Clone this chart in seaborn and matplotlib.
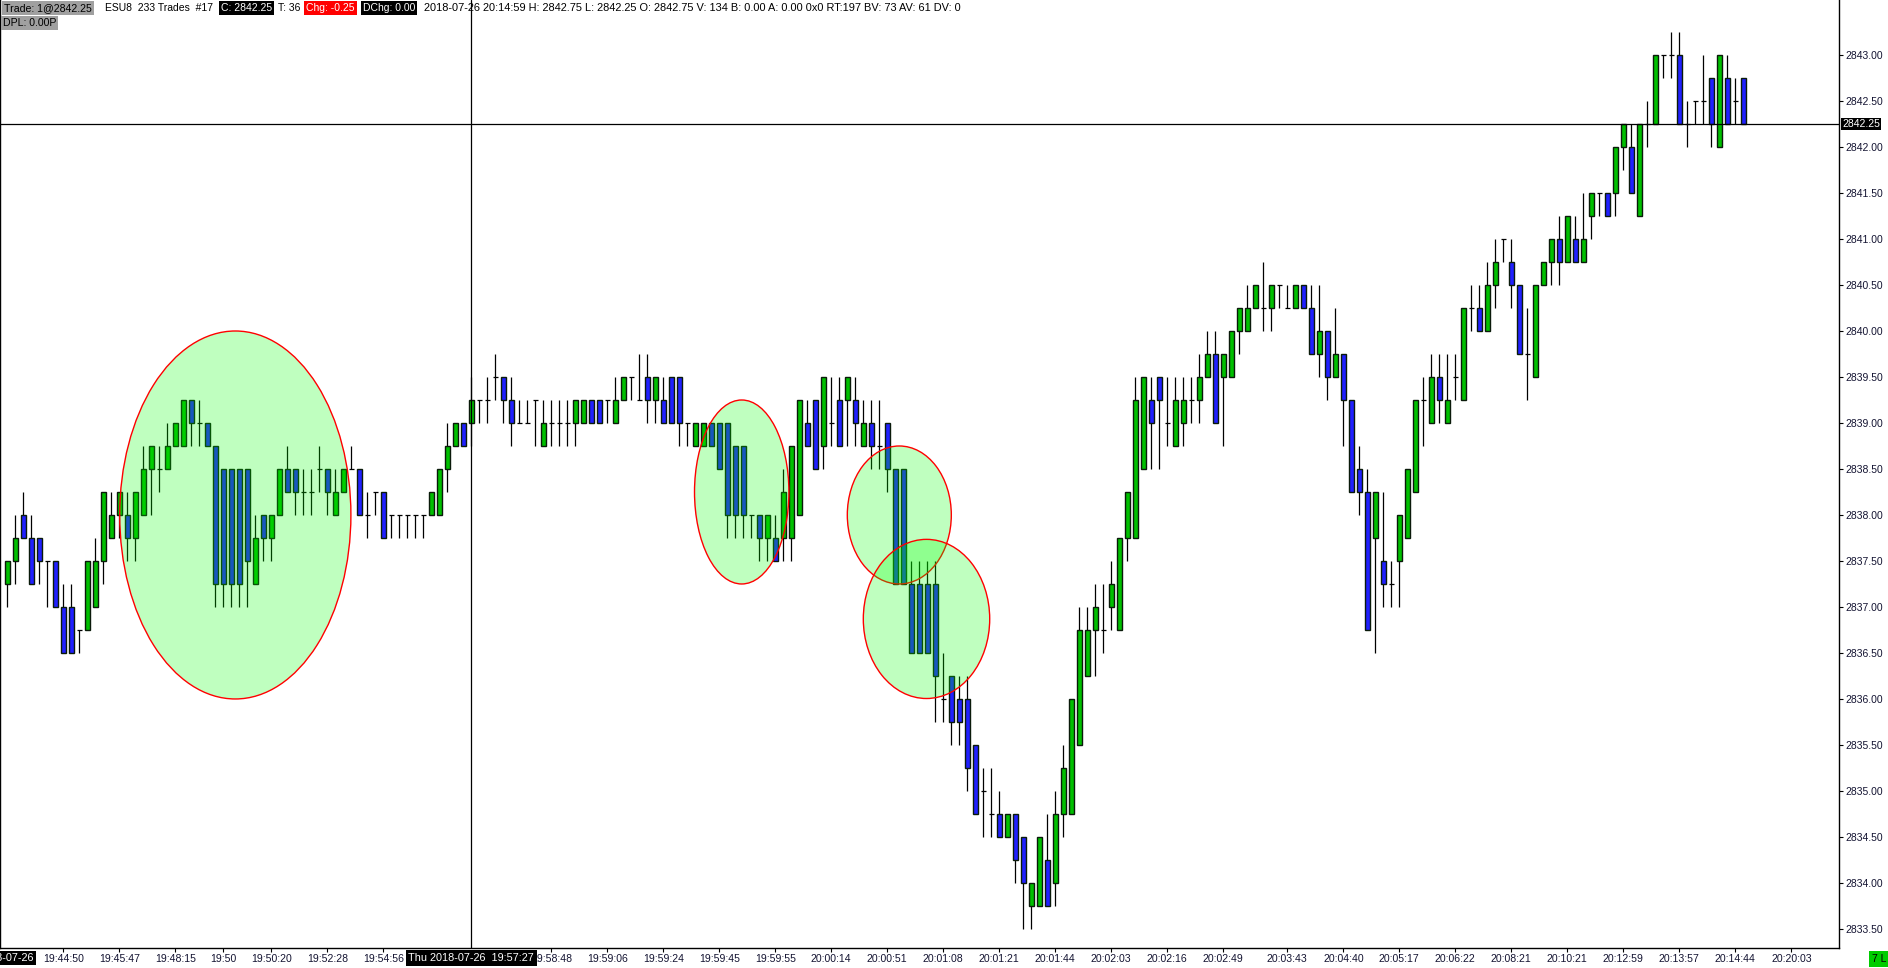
import matplotlib
matplotlib.use("Agg")
import matplotlib.pyplot as plt
from matplotlib.patches import Ellipse
import seaborn as sns
import numpy as np
import pandas as pd

sns.set_theme(style="white")
plt.rcParams["font.family"] = ["Liberation Sans", "DejaVu Sans"]

# ---------------- data (ESU8, 233-trade bars) ----------------
OPEN = [2837.25, 2837.50, 2838.00, 2837.75, 2837.75, 2837.50, 2837.50, 2837.00, 2837.00, 2836.75,
        2836.75, 2837.00, 2837.50, 2837.75, 2838.00, 2838.00, 2837.75, 2838.00, 2838.50, 2838.50,
        2838.50, 2838.75, 2838.75, 2839.25, 2839.00, 2839.00, 2838.75, 2838.50, 2838.50, 2838.50,
        2838.50, 2837.25, 2838.00, 2837.75, 2838.00, 2838.50, 2838.50, 2838.25, 2838.25, 2838.50,
        2838.50, 2838.00, 2838.25, 2838.50, 2838.50, 2838.00, 2838.25, 2838.25, 2838.00, 2838.00,
        2838.00, 2838.00, 2838.00, 2838.00, 2838.00, 2838.50, 2838.75, 2839.00, 2839.00, 2839.25,
        2839.25, 2839.50, 2839.50, 2839.25, 2839.00, 2839.00, 2839.25, 2838.75, 2839.00, 2839.00,
        2839.00, 2839.00, 2839.00, 2839.25, 2839.25, 2839.25, 2839.00, 2839.25, 2839.50, 2839.25,
        2839.50, 2839.25, 2839.25, 2839.50, 2839.50, 2839.00, 2838.75, 2838.75, 2839.00, 2839.00,
        2839.00, 2838.75, 2838.75, 2838.00, 2838.00, 2837.75, 2837.75, 2837.75, 2837.75, 2838.00,
        2839.00, 2839.25, 2838.75, 2839.00, 2839.25, 2839.25, 2839.25, 2838.75, 2839.00, 2838.75,
        2839.00, 2838.50, 2838.50, 2837.25, 2837.25, 2837.25, 2837.25, 2836.00, 2836.25, 2836.00,
        2836.00, 2835.50, 2835.00, 2834.75, 2834.75, 2834.50, 2834.75, 2834.50, 2833.75, 2833.75,
        2834.25, 2834.00, 2834.75, 2834.75, 2835.50, 2836.25, 2836.75, 2836.75, 2837.00, 2836.75,
        2837.75, 2837.75, 2838.50, 2839.25, 2839.50, 2839.00, 2838.75, 2839.00, 2839.25, 2839.25,
        2839.50, 2839.75, 2839.50, 2839.50, 2840.00, 2840.00, 2840.25, 2840.25, 2840.25, 2840.50,
        2840.25, 2840.25, 2840.50, 2840.25, 2839.75, 2840.00, 2839.50, 2839.75, 2839.25, 2838.50,
        2838.25, 2837.75, 2837.50, 2837.25, 2837.50, 2837.75, 2838.25, 2839.25, 2839.00, 2839.50,
        2839.00, 2839.50, 2839.25, 2840.25, 2840.25, 2840.00, 2840.50, 2841.00, 2840.75, 2840.50,
        2839.75, 2839.50, 2840.50, 2840.75, 2841.00, 2840.75, 2841.00, 2840.75, 2841.25, 2841.50,
        2841.50, 2841.50, 2842.00, 2842.00, 2841.25, 2842.25, 2842.25, 2843.00, 2843.00, 2843.00,
        2842.25, 2842.50, 2842.50, 2842.75, 2842.00, 2842.75, 2842.50, 2842.75]
HIGH = [2837.50, 2838.00, 2838.25, 2838.00, 2837.75, 2837.50, 2837.50, 2837.25, 2837.25, 2836.75,
        2837.50, 2837.75, 2838.25, 2838.25, 2838.25, 2838.25, 2838.25, 2838.75, 2838.75, 2838.75,
        2839.00, 2839.00, 2839.25, 2839.25, 2839.25, 2839.00, 2838.75, 2838.50, 2838.50, 2838.50,
        2838.50, 2838.00, 2838.00, 2838.00, 2838.50, 2838.75, 2838.50, 2838.50, 2838.50, 2838.75,
        2838.50, 2838.50, 2838.50, 2838.75, 2838.50, 2838.25, 2838.25, 2838.25, 2838.00, 2838.00,
        2838.00, 2838.00, 2838.00, 2838.25, 2838.50, 2839.00, 2839.00, 2839.00, 2839.50, 2839.25,
        2839.50, 2839.75, 2839.50, 2839.50, 2839.25, 2839.25, 2839.25, 2839.25, 2839.25, 2839.25,
        2839.25, 2839.25, 2839.25, 2839.25, 2839.25, 2839.25, 2839.50, 2839.50, 2839.50, 2839.75,
        2839.75, 2839.50, 2839.50, 2839.50, 2839.50, 2839.00, 2839.00, 2839.00, 2839.00, 2839.00,
        2839.00, 2838.75, 2838.75, 2838.00, 2838.00, 2838.00, 2838.00, 2838.50, 2838.75, 2839.25,
        2839.25, 2839.25, 2839.50, 2839.50, 2839.50, 2839.50, 2839.50, 2839.25, 2839.25, 2839.25,
        2839.00, 2838.50, 2838.50, 2837.50, 2837.50, 2837.50, 2837.50, 2836.50, 2836.25, 2836.25,
        2836.25, 2835.50, 2835.25, 2835.25, 2835.00, 2834.75, 2834.75, 2834.50, 2834.00, 2834.50,
        2834.75, 2835.00, 2835.50, 2836.00, 2837.00, 2837.00, 2837.25, 2837.25, 2837.50, 2837.75,
        2838.25, 2839.50, 2839.50, 2839.50, 2839.50, 2839.50, 2839.50, 2839.50, 2839.50, 2839.75,
        2840.00, 2840.00, 2839.75, 2840.00, 2840.25, 2840.50, 2840.50, 2840.75, 2840.50, 2840.50,
        2840.50, 2840.50, 2840.50, 2840.50, 2840.50, 2840.00, 2840.25, 2839.75, 2839.25, 2838.75,
        2838.50, 2838.25, 2838.25, 2837.50, 2838.00, 2838.50, 2839.25, 2839.50, 2839.75, 2839.75,
        2839.75, 2839.75, 2840.25, 2840.50, 2840.50, 2840.75, 2841.00, 2841.00, 2841.00, 2840.50,
        2840.25, 2840.50, 2840.75, 2841.00, 2841.25, 2841.25, 2841.25, 2841.50, 2841.50, 2841.50,
        2841.50, 2842.00, 2842.25, 2842.25, 2842.25, 2842.50, 2843.00, 2843.00, 2843.25, 2843.25,
        2842.50, 2842.50, 2843.00, 2842.75, 2843.00, 2843.00, 2842.75, 2842.75]
LOW = [2837.00, 2837.25, 2837.75, 2837.25, 2837.25, 2837.00, 2837.00, 2836.50, 2836.50, 2836.50,
       2836.75, 2837.00, 2837.25, 2837.75, 2837.75, 2837.50, 2837.50, 2838.00, 2838.00, 2838.25,
       2838.50, 2838.75, 2838.75, 2838.75, 2838.75, 2838.75, 2837.00, 2837.00, 2837.00, 2837.00,
       2837.00, 2837.25, 2837.50, 2837.50, 2838.00, 2838.25, 2838.00, 2838.00, 2838.00, 2838.25,
       2838.00, 2838.00, 2838.25, 2838.50, 2838.00, 2837.75, 2838.00, 2837.75, 2837.75, 2837.75,
       2837.75, 2837.75, 2837.75, 2838.00, 2838.00, 2838.25, 2838.75, 2838.75, 2838.75, 2839.00,
       2839.00, 2839.25, 2839.00, 2838.75, 2839.00, 2839.00, 2838.75, 2838.75, 2838.75, 2838.75,
       2838.75, 2838.75, 2839.00, 2839.00, 2839.00, 2839.00, 2839.00, 2839.25, 2839.25, 2839.25,
       2839.00, 2839.00, 2839.00, 2839.00, 2838.75, 2838.75, 2838.75, 2838.75, 2838.75, 2838.50,
       2837.75, 2837.75, 2837.75, 2837.75, 2837.50, 2837.50, 2837.50, 2837.50, 2837.50, 2838.00,
       2838.75, 2838.50, 2838.50, 2838.75, 2838.75, 2838.75, 2838.75, 2838.75, 2838.50, 2838.50,
       2838.25, 2837.25, 2837.25, 2836.50, 2836.50, 2836.50, 2835.75, 2835.75, 2835.50, 2835.50,
       2835.00, 2834.75, 2834.50, 2834.50, 2834.50, 2834.50, 2834.00, 2833.50, 2833.50, 2833.75,
       2833.75, 2833.75, 2834.50, 2834.75, 2835.50, 2836.25, 2836.25, 2836.50, 2836.75, 2836.75,
       2837.50, 2837.75, 2838.50, 2838.50, 2838.50, 2838.75, 2838.75, 2838.75, 2839.00, 2839.00,
       2839.50, 2839.00, 2838.75, 2839.50, 2839.75, 2840.00, 2840.25, 2840.00, 2840.00, 2840.25,
       2840.25, 2840.25, 2840.25, 2839.75, 2839.50, 2839.25, 2839.50, 2838.75, 2838.25, 2838.00,
       2836.75, 2836.50, 2837.00, 2837.00, 2837.00, 2837.75, 2838.25, 2838.75, 2839.00, 2839.00,
       2839.00, 2839.25, 2839.25, 2840.00, 2840.00, 2840.00, 2840.25, 2840.75, 2840.25, 2839.75,
       2839.25, 2839.50, 2840.50, 2840.50, 2840.50, 2840.75, 2840.75, 2840.75, 2841.00, 2841.25,
       2841.25, 2841.25, 2841.75, 2841.50, 2841.25, 2842.00, 2842.25, 2842.75, 2842.75, 2842.25,
       2842.00, 2842.25, 2842.25, 2842.00, 2842.00, 2842.25, 2842.25, 2842.25]
CLOSE = [2837.50, 2837.75, 2837.75, 2837.25, 2837.50, 2837.50, 2837.00, 2836.50, 2836.50, 2836.75,
         2837.50, 2837.50, 2838.25, 2838.00, 2838.25, 2837.75, 2838.25, 2838.50, 2838.75, 2838.50,
         2838.75, 2839.00, 2839.25, 2839.00, 2839.00, 2838.75, 2837.25, 2837.25, 2837.25, 2837.25,
         2837.50, 2837.75, 2837.75, 2838.00, 2838.50, 2838.25, 2838.25, 2838.25, 2838.25, 2838.50,
         2838.25, 2838.25, 2838.50, 2838.50, 2838.00, 2838.00, 2838.25, 2837.75, 2838.00, 2838.00,
         2838.00, 2838.00, 2838.00, 2838.25, 2838.50, 2838.75, 2839.00, 2838.75, 2839.25, 2839.25,
         2839.25, 2839.50, 2839.25, 2839.00, 2839.00, 2839.00, 2839.25, 2839.00, 2839.00, 2839.00,
         2839.00, 2839.25, 2839.25, 2839.00, 2839.00, 2839.25, 2839.25, 2839.50, 2839.50, 2839.25,
         2839.25, 2839.50, 2839.00, 2839.00, 2839.00, 2839.00, 2839.00, 2839.00, 2838.75, 2838.50,
         2838.00, 2838.00, 2838.00, 2838.00, 2837.75, 2838.00, 2837.50, 2838.25, 2838.75, 2839.25,
         2838.75, 2838.50, 2839.50, 2839.00, 2838.75, 2839.50, 2839.00, 2839.00, 2838.75, 2838.75,
         2838.50, 2837.25, 2837.25, 2836.50, 2836.50, 2836.50, 2836.25, 2836.00, 2835.75, 2835.75,
         2835.25, 2834.75, 2835.00, 2834.75, 2834.50, 2834.75, 2834.25, 2834.00, 2834.00, 2834.50,
         2833.75, 2834.75, 2835.25, 2836.00, 2836.75, 2836.75, 2837.00, 2836.75, 2837.25, 2837.75,
         2838.25, 2839.25, 2839.50, 2839.00, 2839.25, 2839.00, 2839.25, 2839.25, 2839.25, 2839.50,
         2839.75, 2839.00, 2839.75, 2840.00, 2840.25, 2840.25, 2840.50, 2840.25, 2840.50, 2840.50,
         2840.25, 2840.50, 2840.25, 2839.75, 2840.00, 2839.50, 2839.75, 2839.25, 2838.25, 2838.25,
         2836.75, 2838.25, 2837.25, 2837.25, 2838.00, 2838.50, 2839.25, 2839.25, 2839.50, 2839.25,
         2839.25, 2839.50, 2840.25, 2840.25, 2840.00, 2840.50, 2840.75, 2841.00, 2840.50, 2839.75,
         2839.75, 2840.50, 2840.75, 2841.00, 2840.75, 2841.25, 2840.75, 2841.00, 2841.50, 2841.50,
         2841.25, 2842.00, 2842.25, 2841.50, 2842.25, 2842.25, 2843.00, 2843.00, 2843.00, 2842.25,
         2842.25, 2842.50, 2842.50, 2842.25, 2843.00, 2842.25, 2842.50, 2842.25]

TIME_POS = [7, 14, 21, 27, 33, 40, 47, 68, 75, 82, 89, 96, 103, 110, 117, 124, 131, 138,
            145, 152, 160, 167, 174, 181, 188, 195, 202, 209, 216, 223]
TIME_LABELS = ["19:44:50", "19:45:47", "19:48:15", "19:50", "19:50:20", "19:52:28", "19:54:56",
               "19:58:48", "19:59:06", "19:59:24", "19:59:45", "19:59:55", "20:00:14", "20:00:51",
               "20:01:08", "20:01:21", "20:01:44", "20:02:03", "20:02:16", "20:02:49", "20:03:43",
               "20:04:40", "20:05:17", "20:06:22", "20:08:21", "20:10:21", "20:12:59", "20:13:57",
               "20:14:44", "20:20:03"]
PRICE_TICKS = [2833.5, 2834.0, 2834.5, 2835.0, 2835.5, 2836.0, 2836.5, 2837.0, 2837.5, 2838.0,
               2838.5, 2839.0, 2839.5, 2840.0, 2840.5, 2841.0, 2841.5, 2842.0, 2842.5, 2843.0]

# highlighted zones: (center bar, center price, width in bars, height in price)
ZONES = [(28.5, 2838.00, 28.9, 4.0),
         (91.8, 2838.25, 11.8, 2.0),
         (111.5, 2838.00, 13.0, 1.5),
         (114.9, 2836.87, 15.8, 1.73)]

LAST_PRICE = 2842.25
CURSOR_BAR = 58
CURSOR_TIME = "Thu 2018-07-26  19:57:27"

# ---------------- figure ----------------
W, H = 1888, 968
fig = plt.figure(figsize=(W / 100, H / 100), dpi=100)
fig.patch.set_facecolor("white")
ax = fig.add_axes([0, 20 / H, 1839 / W, 948 / H])
ax.set_facecolor("white")

df = pd.DataFrame({"open": OPEN, "high": HIGH, "low": LOW, "close": CLOSE})
df["bar"] = np.arange(len(df))
up = df[df.close > df.open]
dn = df[df.close < df.open]
fl = df[df.close == df.open]

GREEN = "#00c000"
BLUE = "#2020ff"
BW = 0.64
ax.vlines(df.bar, df.low, df.high, color="black", lw=0.9, zorder=2)
ax.bar(up.bar, up.close - up.open, bottom=up.open, width=BW, color=GREEN,
       edgecolor="#0a1a0a", linewidth=1.0, zorder=3)
ax.bar(dn.bar, dn.open - dn.close, bottom=dn.close, width=BW, color=BLUE,
       edgecolor="#0a1a0a", linewidth=1.0, zorder=3)
ax.hlines(fl.close, fl.bar - BW / 2, fl.bar + BW / 2, color="black", lw=0.9, zorder=3)

for cx, cy, w, h in ZONES:
    ax.add_patch(Ellipse((cx, cy), w, h, facecolor=(0, 1, 0, 0.25),
                         edgecolor=(1, 0, 0, 1), lw=1.0, zorder=5))

# crosshair
ax.axvline(CURSOR_BAR, color="black", lw=0.9, zorder=6)
ax.axhline(LAST_PRICE, color="black", lw=0.9, zorder=6)

ax.set_xlim(-0.9125, 228.96)
ax.set_ylim(2833.293, 2843.598)

for s in ["left", "right", "bottom"]:
    ax.spines[s].set_visible(True)
    ax.spines[s].set_color("black")
    ax.spines[s].set_linewidth(1.0)
ax.spines["top"].set_visible(False)

TXT = "#141432"
ax.yaxis.tick_right()
ax.set_yticks(PRICE_TICKS)
ax.set_yticklabels([f"{v:.2f}" for v in PRICE_TICKS])
ax.tick_params(axis="y", which="both", right=True, left=False, length=3, width=0.8,
               direction="out", pad=1.5, labelsize=7.5, labelcolor=TXT, color="black")
ax.set_xticks(TIME_POS)
ax.set_xticklabels(TIME_LABELS)
ax.tick_params(axis="x", bottom=True, length=3, width=0.8, direction="out", pad=1.5,
               labelsize=7.6, labelcolor=TXT, color="black")
ax.grid(False)

# last price box on axis
ax.text(1 + 3 / 1839, LAST_PRICE, f"{LAST_PRICE:.2f}", transform=ax.get_yaxis_transform(),
        ha="left", va="center", fontsize=7.5, color="white", zorder=10, clip_on=False,
        bbox=dict(boxstyle="square,pad=0.12", fc="black", ec="none"))

def fx(px):
    return px / W

def fy(py):
    return 1 - py / H

# cursor time box and partially visible date box
fig.text(fx(7.3 + 8 * CURSOR_BAR), fy(958), CURSOR_TIME, ha="center", va="center",
         fontsize=7.8, color="white", zorder=10,
         bbox=dict(boxstyle="square,pad=0.25", fc="black", ec="none"))
fig.text(fx(34), fy(958), "2018-07-26", ha="right", va="center", fontsize=7.8,
         color="white", zorder=10, bbox=dict(boxstyle="square,pad=0.2", fc="black", ec="none"))
fig.text(fx(1879), fy(959), "7 L", ha="center", va="center", fontsize=7.5, color="black",
         zorder=10, bbox=dict(boxstyle="square,pad=0.25", fc="#00cc00", ec="none"))

# header line
hy = fy(8)
HEAD = [
    (4, "Trade: 1@2842.25", "black", "#a0a0a0", 7.6),
    (105, "ESU8  233 Trades  #17", "black", None, 7.5),
    (221, "C: 2842.25", "white", "black", 7.5),
    (278, "T: 36", "black", None, 7.5),
    (306, "Chg: -0.25", "white", "#ff0000", 7.5),
    (363, "DChg: 0.00", "white", "black", 7.5),
    (424, "2018-07-26 20:14:59 H: 2842.75 L: 2842.25 O: 2842.75 V: 134 B: 0.00 A: 0.00 0x0 "
          "RT:197 BV: 73 AV: 61 DV: 0", "black", None, 7.9),
]
for px, s, col, bg, fs in HEAD:
    kw = {}
    if bg is not None:
        kw["bbox"] = dict(boxstyle="square,pad=0.2", fc=bg, ec="none")
    fig.text(fx(px), hy, s, ha="left", va="center", fontsize=fs, color=col, zorder=10, **kw)
fig.text(fx(3), fy(23), "DPL: 0.00P", ha="left", va="center", fontsize=7.6, color="black",
         zorder=10, bbox=dict(boxstyle="square,pad=0.2", fc="#a0a0a0", ec="none"))

fig.savefig("out.png", dpi=100, facecolor="white")
